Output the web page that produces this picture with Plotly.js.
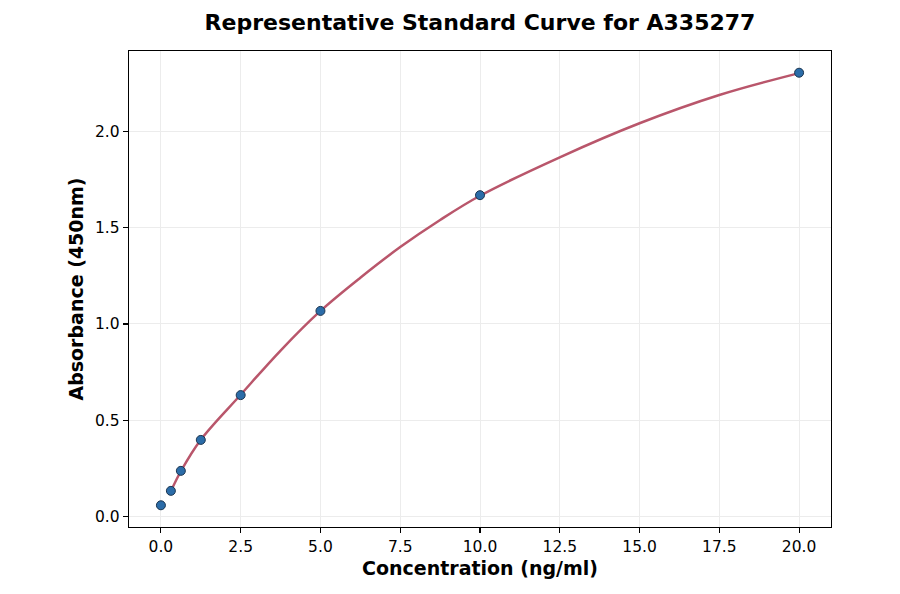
<!DOCTYPE html>
<html>
<head>
<meta charset="utf-8">
<script src="https://cdn.plot.ly/plotly-3.0.1.min.js"></script>
<style>
  html, body { margin: 0; padding: 0; background: #fff; }
  #plot { width: 900px; height: 594px; }
</style>
</head>
<body>
<div id="plot"></div>
<script>
// standards
const concentrations = [0, 0.3125, 0.625, 1.25, 2.5, 5, 10, 20];
const absorbance = [0.057, 0.132, 0.236, 0.397, 0.630, 1.068, 1.670, 2.307];

// fitted curve at a few x positions
const fitX = [0.3125, 0.625, 1.25, 2.5, 3.75, 5, 6.25, 7.5, 8.75, 10, 12.5, 15, 17.5, 20];
const fitY = [0.130, 0.234, 0.398, 0.632, 0.862, 1.068, 1.241, 1.400, 1.541, 1.667, 1.867, 2.044, 2.191, 2.305];

const xTicks = [0, 2.5, 5, 7.5, 10, 12.5, 15, 17.5, 20];
const yTicks = [0, 0.5, 1.0, 1.5, 2.0];

const FONT = 'DejaVu Sans, sans-serif';

const traceFit = {
    x: fitX,
    y: fitY,
    mode: 'lines',
    line: { color: '#b9566b', width: 2.5, shape: 'spline', smoothing: 1 },
    hoverinfo: 'skip',
    showlegend: false
};

const traceStd = {
    x: concentrations,
    y: absorbance,
    mode: 'markers',
    marker: { color: '#2b6ca8', size: 9, line: { color: '#1b3550', width: 1 } },
    showlegend: false
};

const axisCommon = {
    showline: true,
    mirror: true,
    linecolor: '#000',
    linewidth: 1.3,
    ticks: 'outside',
    ticklen: 5,
    tickwidth: 1.1,
    tickcolor: '#000',
    showgrid: true,
    gridcolor: '#ececec',
    gridwidth: 1,
    zeroline: false,
    tickfont: { family: FONT, size: 15.5, color: '#000' }
};

const layout = {
    width: 900,
    height: 594,
    paper_bgcolor: '#fff',
    plot_bgcolor: '#fff',
    margin: { l: 129, r: 69, t: 51, b: 67 },
    title: {
        text: 'Representative Standard Curve for A335277',
        font: { family: FONT, size: 22, color: '#000', weight: 'bold' },
        xref: 'paper',
        x: 0.5,
        xanchor: 'center',
        y: 0.962,
        yanchor: 'middle'
    },
    xaxis: Object.assign({}, axisCommon, {
        range: [-1, 21],
        tickvals: xTicks,
        ticktext: xTicks.map(v => v.toFixed(1)),
        title: { text: 'Concentration (ng/ml)', font: { family: FONT, size: 19, color: '#000', weight: 'bold' }, standoff: 6 }
    }),
    yaxis: Object.assign({}, axisCommon, {
        range: [-0.056, 2.42],
        tickvals: yTicks,
        ticktext: yTicks.map(v => v.toFixed(1)),
        title: { text: 'Absorbance (450nm)', font: { family: FONT, size: 19, color: '#000', weight: 'bold' }, standoff: 6 }
    })
};

Plotly.newPlot('plot', [traceFit, traceStd], layout, { displayModeBar: false, staticPlot: true });
</script>
</body>
</html>
